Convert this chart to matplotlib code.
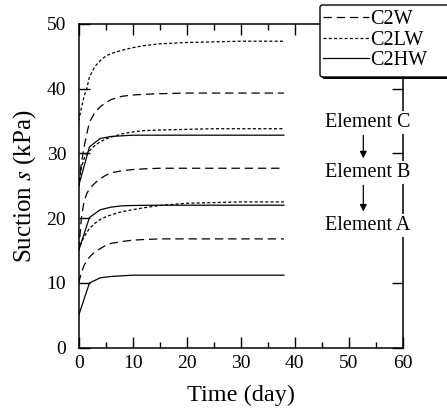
import numpy as np
import matplotlib
matplotlib.use('Agg')
import matplotlib.pyplot as plt
from matplotlib.ticker import MultipleLocator
from matplotlib.patches import FancyBboxPatch

plt.rcParams['font.family'] = ['Liberation Serif', 'DejaVu Serif']
plt.rcParams['mathtext.fontset'] = 'stix'
plt.rcParams['lines.scale_dashes'] = False

# time samples (day) for the smooth curves and the coarse solid curves
t_fine = [0, 0.5, 1, 1.5, 2, 3, 4, 5, 6, 8, 10, 12, 15, 20, 25, 30, 38]
t_coarse = [0, 2, 4, 6, 8, 10, 14, 20, 26, 32, 38]

# C2W (dashed), elements A, B, C
c2w_A = [10, 11.6, 12.7, 13.4, 14.0, 14.8, 15.3, 15.8, 16.1, 16.4, 16.6, 16.7, 16.8, 16.8, 16.8, 16.8, 16.8]
c2w_B = [15, 20.0, 22.6, 23.8, 24.5, 25.4, 26.1, 26.6, 27.0, 27.3, 27.5, 27.6, 27.7, 27.7, 27.7, 27.7, 27.7]
c2w_C = [25, 28.5, 31.0, 33.0, 34.8, 36.3, 37.2, 37.8, 38.3, 38.8, 39.0, 39.1, 39.2, 39.3, 39.3, 39.3, 39.3]

# C2LW (dotted)
c2lw_A = [15, 16.3, 17.1, 17.8, 18.4, 19.2, 19.8, 20.2, 20.5, 21.0, 21.3, 21.6, 21.95, 22.3, 22.4, 22.5, 22.5]
c2lw_B = [25, 27.8, 29.2, 30.0, 30.4, 31.2, 31.8, 32.2, 32.5, 33.0, 33.3, 33.5, 33.6, 33.7, 33.8, 33.8, 33.8]
c2lw_C = [35, 37.0, 38.8, 40.0, 41.8, 43.4, 44.3, 45.0, 45.4, 45.9, 46.3, 46.6, 46.9, 47.1, 47.2, 47.3, 47.3]

# C2HW (solid)
c2hw_A = [5, 10.0, 10.8, 11.0, 11.1, 11.2, 11.2, 11.2, 11.2, 11.2, 11.2]
c2hw_B = [15, 20.1, 21.3, 21.7, 21.9, 21.95, 22.0, 22.0, 22.0, 22.0, 22.0]
c2hw_C = [25, 31.0, 32.3, 32.6, 32.7, 32.8, 32.8, 32.8, 32.8, 32.8, 32.8]

elements = ['Element C', 'Element B', 'Element A']
element_y = [34.8, 27.1, 18.9]

dashed = (0, (6, 3.5))
dotted = (0, (2.2, 1.6))

W, H = 447, 416
fig = plt.figure(figsize=(W / 100, H / 100), dpi=100)
ax = fig.add_axes([0.176, 0.164, 0.725, 0.779])

for i, ys in enumerate([c2w_A, c2w_B, c2w_C]):
    ax.plot(t_fine, ys, color='k', lw=0.9, ls=dashed, label='C2W' if i == 0 else None)
for i, ys in enumerate([c2lw_A, c2lw_B, c2lw_C]):
    ax.plot(t_fine, ys, color='k', lw=0.9, ls=dotted, label='C2LW' if i == 0 else None)
for i, ys in enumerate([c2hw_A, c2hw_B, c2hw_C]):
    ax.plot(t_coarse, ys, color='k', lw=0.9, ls='-', label='C2HW' if i == 0 else None)

ax.set_xlim(0, 60)
ax.set_ylim(0, 50)
ax.xaxis.set_major_locator(MultipleLocator(10))
ax.xaxis.set_minor_locator(MultipleLocator(5))
ax.yaxis.set_major_locator(MultipleLocator(10))
ax.tick_params(which='both', direction='in', top=True, right=True, labelsize=14, width=1)
ax.tick_params(which='major', length=8)
ax.tick_params(which='minor', length=4)
ax.tick_params(axis='x', pad=5.5)
ax.tick_params(axis='y', pad=9)
for sp in ax.spines.values():
    sp.set_linewidth(1.1)

ax.set_xlabel('Time (day)', fontsize=17.5, labelpad=9)
ax.set_ylabel('Suction $s$ (kPa)', fontsize=18, labelpad=6)

# element labels over the right spine
for name, yv in zip(elements, element_y):
    ax.text(53.6, yv, name, fontsize=14.5, ha='center', va='center', zorder=20, clip_on=False,
            bbox=dict(facecolor='white', edgecolor='none', pad=1.5))
for y0, y1 in [(element_y[0] - 1.6, element_y[1] + 1.7), (element_y[1] - 1.6, element_y[2] + 1.7)]:
    ax.annotate('', xy=(52.7, y1), xytext=(52.7, y0), zorder=21, annotation_clip=False,
                arrowprops=dict(arrowstyle='-|>', color='k', lw=0.9, mutation_scale=10))

# legend frame, running off the right edge of the figure
shadow = FancyBboxPatch((322 / W, 1 - 79 / H), 140 / W, 73 / H, transform=fig.transFigure,
                        boxstyle='round,pad=0,rounding_size=0.006', facecolor='k',
                        edgecolor='none', zorder=3)
frame = FancyBboxPatch((320 / W, 1 - 77 / H), 140 / W, 72 / H, transform=fig.transFigure,
                       boxstyle='round,pad=0,rounding_size=0.006', facecolor='white',
                       edgecolor='k', lw=1, zorder=4)
fig.patches.extend([shadow, frame])

handles, labels = ax.get_legend_handles_labels()
leg = fig.legend(handles, labels, loc='upper left', bbox_to_anchor=(319 / W, 1 - 6 / H),
                 fontsize=14.5, handlelength=2.3, handletextpad=0.05, labelspacing=0.07,
                 borderaxespad=0, borderpad=0.2, frameon=False)
leg.set_zorder(6)

fig.savefig('out.png', dpi=100)
